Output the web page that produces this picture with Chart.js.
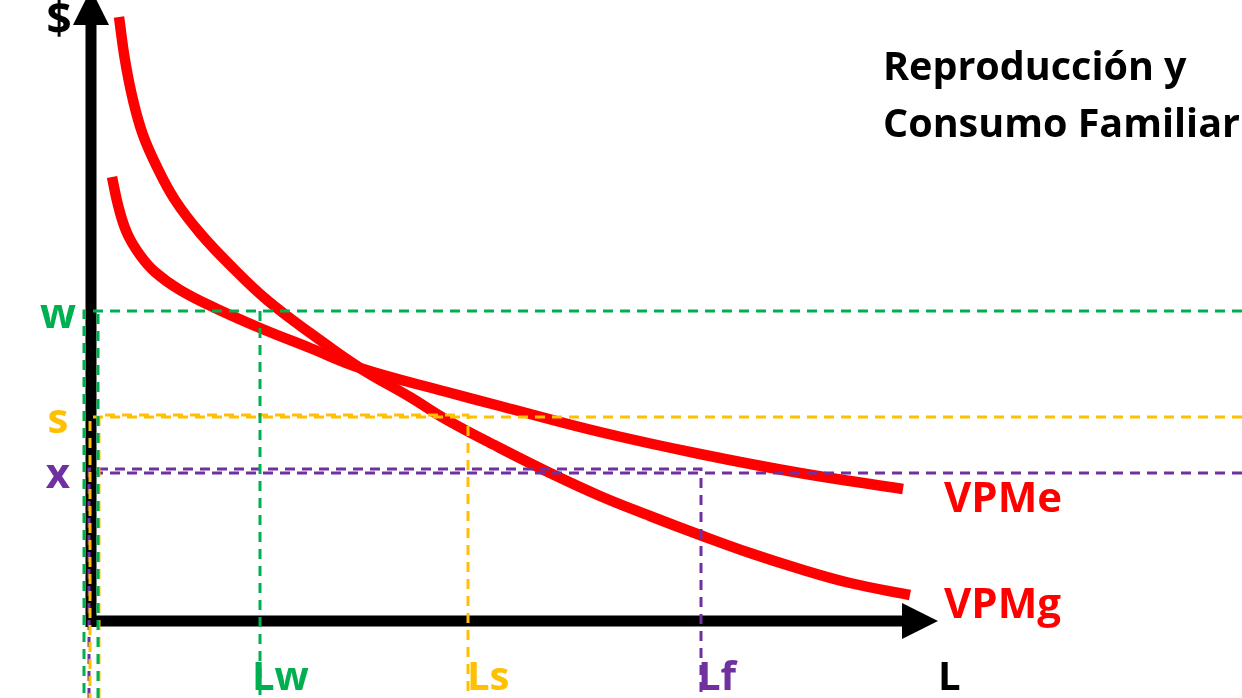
<!DOCTYPE html>
<html lang="es">
<head>
<meta charset="utf-8">
<title>Reproducción y Consumo Familiar</title>
<script src="https://cdn.jsdelivr.net/npm/chart.js@4.4.1/dist/chart.umd.min.js"></script>
<style>
  html, body { margin: 0; padding: 0; background: #fff; }
  #wrap { width: 1242px; height: 698px; position: relative; }
</style>
</head>
<body>
<div id="wrap"><canvas id="chart"></canvas></div>
<script>
// labour (L) and value ($), measured from the origin of the axes
const vpmgL   = [28, 34, 42, 52, 66, 84, 109, 139, 176, 222, 269, 319, 356, 409, 459, 509, 559, 609, 659, 709, 759, 819];
const vpmgVal = [604, 561, 521, 486, 454, 421, 388, 356, 321, 286, 253, 224, 201, 173, 148, 125, 105, 86, 68, 52, 38, 26];

const vpmeL   = [21, 27, 36, 49, 64, 89, 124, 169, 219, 269, 356, 409, 509, 609, 709, 812];
const vpmeVal = [444, 416, 388, 366, 349, 331, 313, 293, 273, 253, 229, 215, 189, 167, 148, 132];

// price levels on the $ axis and the labour hired at each one
const levelNames = ['w', 's', 'x'];
const levelVals  = [310, 205, 150];
const laborNames = ['Lw', 'Ls', 'Lf'];
const laborVals  = [169, 377, 610];

// visible window
const X_MIN = -91, X_MAX = 1151, Y_MIN = -77, Y_MAX = 621;

const guideColors = ['#00B050', '#FFC000', '#7030A0'];
// dashed verticals hugging the $ axis (outer = long guide, inner = box guide)
const guideOuter = [-7, -1, null];
const guideInner = [7, 8, -2];
// small vertical nudges between the long guide and the box guide
const longNudge = [0, -1, -2];
const boxNudge  = [null, 1, 2];
const laborTextShift = [-8, -1, -3];

const pts = (xs, ys) => xs.map((v, i) => ({ x: v, y: ys[i] }));

const dashed = (data, color) => ({
  data: data,
  borderColor: color,
  borderWidth: 3,
  borderDash: [10, 7],
  tension: 0
});

const datasets = [];

// dashed guides go on top of everything, so they come first
levelVals.forEach((lv, i) => {
  const c = guideColors[i];
  const yl = lv + longNudge[i];
  const longPath = [{ x: X_MAX, y: yl }];
  if (guideOuter[i] !== null) {
    longPath.push({ x: guideOuter[i], y: yl }, { x: guideOuter[i], y: Y_MIN });
  } else {
    longPath.push({ x: 5, y: yl });
  }
  datasets.push(dashed(longPath, c));

  if (boxNudge[i] === null) {
    datasets.push(dashed([{ x: guideInner[i], y: Y_MIN }, { x: guideInner[i], y: lv }], c));
    datasets.push(dashed([{ x: laborVals[i], y: lv }, { x: laborVals[i], y: Y_MIN }], c));
  } else {
    const yb = lv + boxNudge[i];
    datasets.push(dashed([
      { x: guideInner[i], y: Y_MIN },
      { x: guideInner[i], y: yb },
      { x: laborVals[i], y: yb },
      { x: laborVals[i], y: Y_MIN }
    ], c));
  }
});

// marginal value product curves
datasets.push({
  data: pts(vpmgL, vpmgVal),
  borderColor: '#FF0000',
  borderWidth: 10.5,
  tension: 0.4
});
datasets.push({
  data: pts(vpmeL, vpmeVal),
  borderColor: '#FF0000',
  borderWidth: 10.5,
  tension: 0.4
});

// the two axes
datasets.push({
  data: [{ x: 0, y: -6 }, { x: 0, y: 596 }],
  borderColor: '#000', borderWidth: 11, tension: 0
});
datasets.push({
  data: [{ x: -5, y: 0 }, { x: 811, y: 0 }],
  borderColor: '#000', borderWidth: 11, tension: 0
});

const labels = [
  { text: '$', x: -32, y: 587, size: 44, color: '#000', align: 'center' },
  { text: 'Reproducción y', x: 792, y: 541, size: 39.5, color: '#000' },
  { text: 'Consumo Familiar', x: 792, y: 484, size: 39.5, color: '#000' },
  { text: 'VPMe', x: 853, y: 109, size: 42, color: '#FF0000' },
  { text: 'VPMg', x: 853, y: 3, size: 42, color: '#FF0000' },
  { text: 'L', x: 847, y: -69, size: 40, color: '#000' }
];
levelNames.forEach((n, i) => labels.push({
  text: n, x: -33, y: levelVals[i] - 17, size: 42, color: guideColors[i], align: 'center'
}));
laborNames.forEach((n, i) => labels.push({
  text: n, x: laborVals[i] + laborTextShift[i], y: -69, size: 40, color: guideColors[i]
}));

// arrowheads on the axes and free text
const sketchText = {
  id: 'sketchText',
  afterDatasetsDraw(chart, args, opts) {
    const { ctx, scales: { x, y } } = chart;
    ctx.save();
    ctx.fillStyle = '#000';
    opts.arrows.forEach(a => {
      const tx = x.getPixelForValue(a.tip[0]), ty = y.getPixelForValue(a.tip[1]);
      const bx = x.getPixelForValue(a.base[0]), by = y.getPixelForValue(a.base[1]);
      const dx = tx - bx, dy = ty - by;
      const len = Math.hypot(dx, dy);
      const nx = -dy / len * a.half, ny = dx / len * a.half;
      ctx.beginPath();
      ctx.moveTo(tx, ty);
      ctx.lineTo(bx + nx, by + ny);
      ctx.lineTo(bx - nx, by - ny);
      ctx.closePath();
      ctx.fill();
    });
    opts.labels.forEach(l => {
      ctx.font = `bold ${l.size}px "Open Sans", sans-serif`;
      ctx.fillStyle = l.color;
      ctx.textAlign = l.align || 'left';
      ctx.textBaseline = 'alphabetic';
      ctx.fillText(l.text, x.getPixelForValue(l.x), y.getPixelForValue(l.y));
    });
    ctx.restore();
  }
};

new Chart(document.getElementById('chart'), {
  type: 'scatter',
  data: { datasets: datasets.map(d => Object.assign({ showLine: true, pointRadius: 0, clip: false, fill: false }, d)) },
  options: {
    responsive: true,
    maintainAspectRatio: false,
    animation: false,
    events: [],
    layout: { padding: 0 },
    plugins: {
      legend: { display: false },
      tooltip: { enabled: false },
      sketchText: {
        arrows: [
          { tip: [0, 632], base: [0, 596], half: 18 },
          { tip: [847, 0], base: [811, 0], half: 18 }
        ],
        labels: labels
      }
    },
    scales: {
      x: { type: 'linear', min: X_MIN, max: X_MAX, display: false },
      y: { type: 'linear', min: Y_MIN, max: Y_MAX, display: false }
    }
  },
  plugins: [sketchText]
});
</script>
</body>
</html>
